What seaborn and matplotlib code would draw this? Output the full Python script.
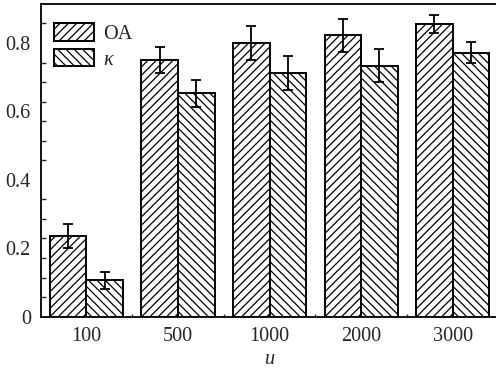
import numpy as np
import pandas as pd
import matplotlib
matplotlib.use("Agg")
import matplotlib.pyplot as plt
import seaborn as sns

categories = ["100", "500", "1000", "2000", "3000"]
oa_values = [0.236, 0.750, 0.801, 0.822, 0.856]
oa_errors = [0.035, 0.038, 0.050, 0.047, 0.027]
kappa_values = [0.106, 0.653, 0.712, 0.733, 0.772]
kappa_errors = [0.024, 0.039, 0.050, 0.048, 0.032]
series_names = ["OA", r"$\kappa$"]
ytick_labels = ["0", "0.2", "0.4", "0.6", "0.8"]
ytick_values = [0, 0.2, 0.4, 0.6, 0.8]

sns.set_style("ticks")
plt.rcParams["font.family"] = ["Liberation Serif", "DejaVu Serif"]
plt.rcParams["mathtext.fontset"] = "custom"
plt.rcParams["mathtext.it"] = "Liberation Serif:italic"
plt.rcParams["mathtext.rm"] = "Liberation Serif"
plt.rcParams["hatch.linewidth"] = 0.9

df = pd.DataFrame({
    "u": categories * 2,
    "value": oa_values + kappa_values,
    "series": [series_names[0]] * len(categories) + [series_names[1]] * len(categories),
})

fig = plt.figure(figsize=(4.96, 3.73), dpi=100)
ax = fig.add_axes([0.082, 0.151, 1.005 - 0.082, 0.9885 - 0.151])

sns.barplot(data=df, x="u", y="value", hue="series", order=categories,
            hue_order=series_names, palette=["white", "white"],
            edgecolor="black", linewidth=1.4, width=0.8, errorbar=None,
            saturation=1, ax=ax)

hatches = ["////", "\\\\\\\\"]
errs = [oa_errors, kappa_errors]
vals = [oa_values, kappa_values]
bar_containers = list(ax.containers)
for ci, cont in enumerate(bar_containers):
    xs = []
    for p in cont.patches:
        p.set_hatch(hatches[ci])
        p.set_edgecolor("black")
        xs.append(p.get_x() + p.get_width() / 2)
    ax.errorbar(xs, vals[ci], yerr=errs[ci], fmt="none", ecolor="black",
                elinewidth=1.3, capsize=3.6, capthick=1.3, zorder=5)

ax.set_xlim(-0.5, 4.5)
ax.set_ylim(0, 0.913)
ax.set_yticks(ytick_values)
ax.set_yticklabels(ytick_labels)
ax.set_yticks(np.arange(1, 16) * 0.8 / 14, minor=True)
ax.set_xticks(np.arange(0.5, 4.5, 1.0), minor=True)
ax.tick_params(axis="y", which="major", length=0, pad=7, labelsize=14.6)
ax.tick_params(axis="y", which="minor", direction="in", length=3.5, width=1.0)
ax.tick_params(axis="x", which="major", length=0, pad=7.5, labelsize=14.6)
ax.tick_params(axis="x", which="minor", direction="in", length=2, width=1.0)
for s in ax.spines.values():
    s.set_linewidth(1.3)
    s.set_color("black")

ax.set_xlabel("$u$", fontsize=14.6, labelpad=3)
ax.set_ylabel("")

handles, labels = ax.get_legend_handles_labels()
for h, hat in zip(handles, hatches):
    h.set_hatch(hat)
    h.set_edgecolor("black")
    h.set_facecolor("white")
ax.legend(handles, labels, loc="upper left", bbox_to_anchor=(0.03, 0.94),
          frameon=False, fontsize=14.6, handlelength=1.95, handleheight=0.95,
          labelspacing=0.25, handletextpad=0.45, borderpad=0, borderaxespad=0)

fig.savefig("out.png", dpi=100)
